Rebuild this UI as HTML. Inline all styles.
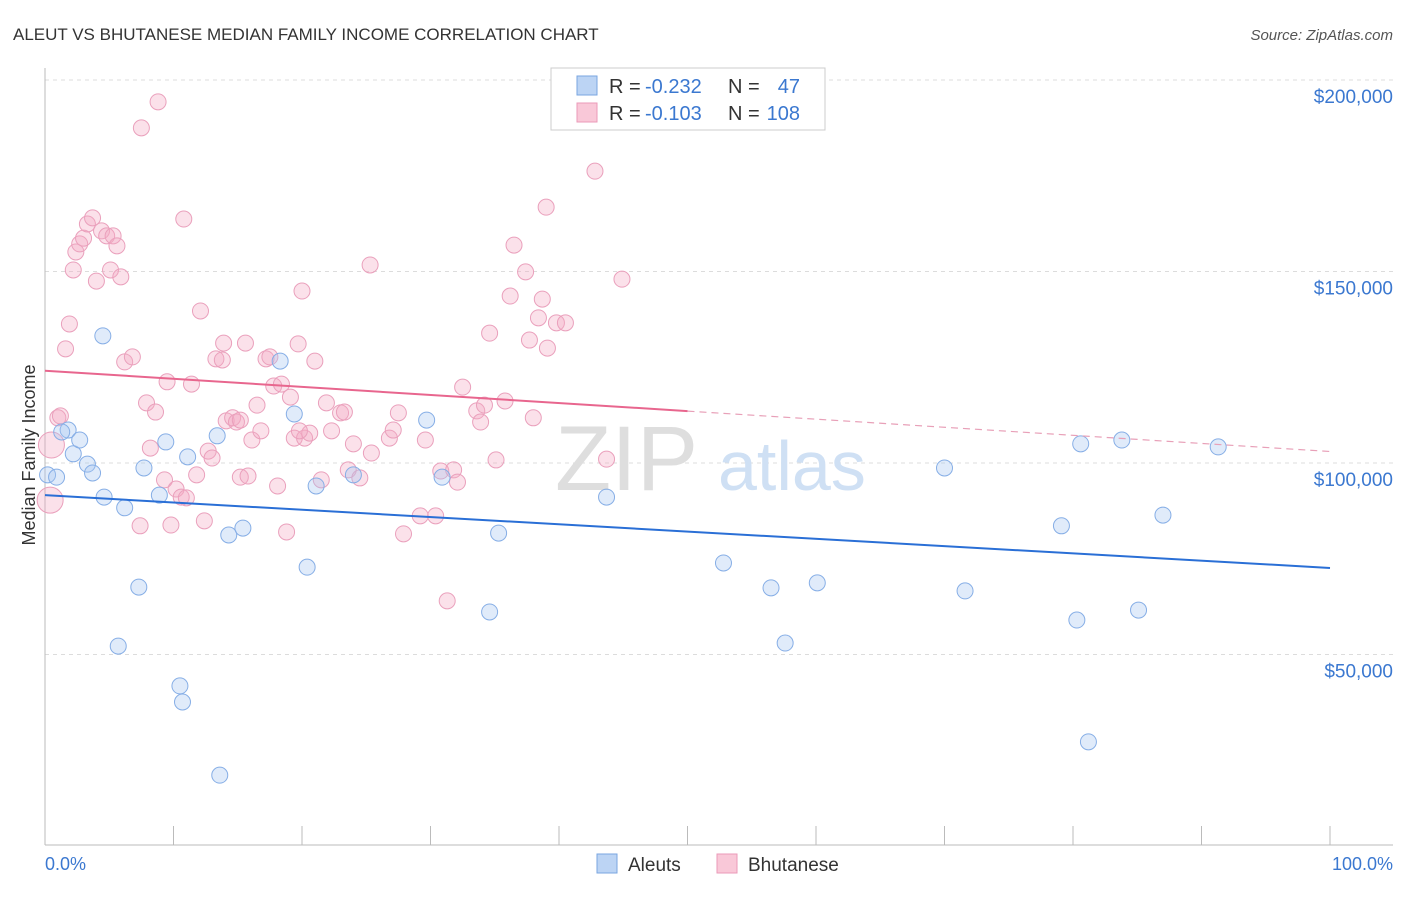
<!DOCTYPE html>
<html><head><meta charset="utf-8"><style>
body{margin:0;background:#fff;font-family:"Liberation Sans",sans-serif;}
svg text{font-family:"Liberation Sans",sans-serif;}
</style></head><body>
<svg id="chart" width="1406" height="892">
<text x="13" y="40" font-size="17" fill="#333">ALEUT VS BHUTANESE MEDIAN FAMILY INCOME CORRELATION CHART</text>
<text x="1393" y="40" font-size="15" fill="#555" text-anchor="end" font-style="italic">Source: ZipAtlas.com</text>
<g id="grid"></g>
<g id="wm">
<text x="555" y="490" font-size="92" fill="#dedede" font-family="Liberation Serif">ZIP</text>
<text x="718" y="490" font-size="70" fill="#cfe0f4">atlas</text>
</g>
<g id="marks"></g>
<text x="35" y="455" font-size="18" fill="#333" text-anchor="middle" transform="rotate(-90 35 455)">Median Family Income</text>
<text x="45" y="870" font-size="18" fill="#3b78d0">0.0%</text>
<text x="1393" y="870" font-size="18" fill="#3b78d0" text-anchor="end">100.0%</text>
<g>
<rect x="551" y="68" width="274" height="62" fill="#fff" stroke="#ccc"/>
<rect x="577" y="76" width="20" height="19" fill="#bcd4f4" stroke="#7aa6e0"/>
<rect x="577" y="103" width="20" height="19" fill="#f9c8d8" stroke="#eb9ab8"/>
<text x="609" y="93" font-size="20" fill="#333">R =</text>
<text x="645" y="93" font-size="20" fill="#3b78d0">-0.232</text>
<text x="728" y="93" font-size="20" fill="#333">N =</text>
<text x="800" y="93" font-size="20" fill="#3b78d0" text-anchor="end">47</text>
<text x="609" y="120" font-size="20" fill="#333">R =</text>
<text x="645" y="120" font-size="20" fill="#3b78d0">-0.103</text>
<text x="728" y="120" font-size="20" fill="#333">N =</text>
<text x="800" y="120" font-size="20" fill="#3b78d0" text-anchor="end">108</text>
</g>
<g>
<rect x="597" y="854" width="20" height="19" fill="#bcd4f4" stroke="#7aa6e0"/>
<text x="628" y="871" font-size="19" fill="#333">Aleuts</text>
<rect x="717" y="854" width="20" height="19" fill="#f9c8d8" stroke="#eb9ab8"/>
<text x="748" y="871" font-size="19" fill="#333">Bhutanese</text>
</g>
</svg>
<script>
const yTicks=[50,100,150,200];
const yTickLabels=["$50,000","$100,000","$150,000","$200,000"];
const xTicks=[0,10,20,30,40,50,60,70,80,90,100];
const aleutX=[0.2,0.9,1.8,1.3,2.2,2.7,3.3,3.7,4.6,4.5,6.2,7.3,5.7,7.7,8.9,9.4,10.5,10.7,11.1,13.4,13.6,14.3,15.4,18.3,19.4,20.4,21.1,24.0,29.7,30.9,34.6,35.3,43.7,52.8,56.5,57.6,60.1,70.0,71.6,79.1,80.3,80.6,81.2,83.8,85.1,87.0,91.3];
const aleutY=[96.9,96.3,108.6,108.1,102.4,106.0,99.7,97.4,91.1,133.2,88.3,67.6,52.2,98.7,91.6,105.5,41.8,37.6,101.6,107.1,18.5,81.2,83.0,126.6,112.8,72.8,94.0,96.9,111.2,96.3,61.1,81.7,91.1,73.9,67.4,53.0,68.7,98.7,66.6,83.6,59.0,105.0,27.2,106.0,61.6,86.4,104.2];
const bhuX=[0.4,0.5,1.0,1.2,1.6,1.9,2.2,2.4,2.7,3.0,3.3,3.7,4.0,4.4,4.8,5.1,5.3,5.6,5.9,6.2,6.8,7.4,7.5,7.9,8.2,8.6,8.8,9.3,9.5,9.8,10.2,10.6,10.8,11.0,11.4,11.8,12.1,12.4,12.7,13.0,13.3,13.8,13.9,14.1,14.6,14.9,15.2,15.6,15.8,16.1,16.5,16.8,17.2,17.5,17.8,18.1,18.4,18.8,19.1,19.4,19.7,20.0,20.2,20.6,21.0,21.5,21.9,22.3,23.0,23.3,23.6,24.0,24.5,25.3,25.4,26.8,27.1,27.5,27.9,29.2,29.6,30.4,30.8,31.3,31.8,32.1,32.5,33.6,33.9,34.2,34.6,35.1,35.8,36.2,36.5,37.4,37.7,38.0,38.4,38.7,39.0,39.1,39.8,40.5,42.8,43.7,44.9,19.8,15.2];
const bhuY=[90.3,104.7,111.8,112.3,129.8,136.3,150.4,155.1,157.2,158.7,162.4,164.0,147.5,160.6,159.3,150.4,159.3,156.7,148.6,126.4,127.7,83.6,187.5,115.7,103.9,113.3,194.3,95.6,121.2,83.8,93.2,91.1,163.7,90.9,120.6,96.9,139.7,84.9,103.1,101.3,127.2,126.9,131.3,111.0,111.8,110.7,96.3,131.3,96.6,106.0,115.1,108.4,127.2,127.7,120.1,94.0,120.6,82.0,117.2,106.5,131.1,144.9,106.5,107.8,126.6,95.6,115.7,108.4,113.1,113.3,98.2,105.0,96.1,151.7,102.6,106.5,108.6,113.1,81.5,86.2,106.0,86.2,97.9,64.0,98.2,95.0,119.8,113.6,110.7,115.1,133.9,100.8,116.2,143.6,156.9,149.9,132.1,111.8,137.9,142.8,166.8,130.0,136.6,136.6,176.2,101.0,148.0,108.4,111.2];
const aleutTrend=[91.6,72.6];
const bhuTrend=[124.1,103.0];
const NS="http://www.w3.org/2000/svg";
function sx(v){return 45+v*12.85;}
function sy(v){return 846-v*3.83;}
function mk(tag,attrs,parent){const e=document.createElementNS(NS,tag);for(const k in attrs)e.setAttribute(k,attrs[k]);parent.appendChild(e);return e;}
const grid=document.getElementById('grid');
const marks=document.getElementById('marks');
yTicks.forEach((t,i)=>{
  const l=mk('line',{x1:45,x2:1393,y1:sy(t),y2:sy(t),stroke:'#dcdcdc','stroke-dasharray':'4,4'},grid);
  
  
  const tx=mk('text',{x:1393,y:sy(t)+23,'font-size':19,fill:'#3b78d0','text-anchor':'end'},grid);
  tx.textContent=yTickLabels[i];
  
  
});
const ax=mk('line',{x1:45,x2:1393,y1:845,y2:845,stroke:'#bbb'},grid);


const ay=mk('line',{x1:45,x2:45,y1:68,y2:845,stroke:'#bbb'},grid);


xTicks.forEach(t=>{
  const l=mk('line',{x1:sx(t),x2:sx(t),y1:826,y2:845,stroke:'#bbb'},grid);
  
  
});
function dots(xs,ys,fill,stroke,name){
  xs.forEach((x,i)=>{
    const big=(name==='bhutanese-point'&&i<2);
    const c=mk('circle',{cx:sx(x),cy:sy(ys[i]),r:big?13:8,fill:fill,'fill-opacity':0.35,stroke:stroke,'stroke-width':1},marks);
    
    
  });
}
dots(bhuX,bhuY,'#f4a8c2','#eaa0bc','bhutanese-point');
dots(aleutX,aleutY,'#a6c6f0','#86aee6','aleut-point');
const bt=mk('line',{x1:sx(0),y1:sy(aleutTrend[0]),x2:sx(100),y2:sy(aleutTrend[1]),stroke:'#2a6fd6','stroke-width':2},marks);


const pm=bhuTrend[0]+(bhuTrend[1]-bhuTrend[0])*0.5;
const pt=mk('line',{x1:sx(0),y1:sy(bhuTrend[0]),x2:sx(50),y2:sy(pm),stroke:'#e8668e','stroke-width':2},marks);


const pd=mk('line',{x1:sx(50),y1:sy(pm),x2:sx(100),y2:sy(bhuTrend[1]),stroke:'#e8a0b8','stroke-width':1.2,'stroke-dasharray':'7,5'},marks);


</script>
</body></html>
